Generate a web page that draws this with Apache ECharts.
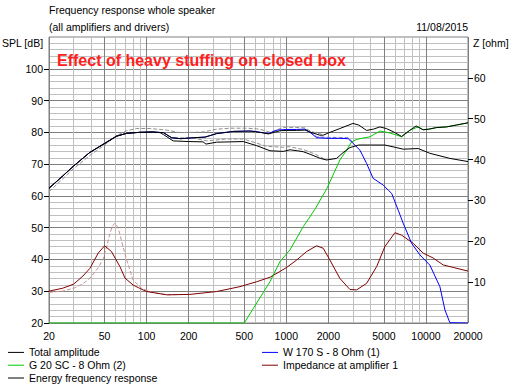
<!DOCTYPE html>
<html><head><meta charset="utf-8">
<script src="https://cdn.jsdelivr.net/npm/echarts@6/dist/echarts.min.js"></script>
<style>html,body{margin:0;padding:0;background:#fff}#c{width:515px;height:385px}</style>
</head><body><div id="c"></div>
<script>
// ---- tick / grid values ----
const xLabelTicks = [20,50,100,200,500,1000,2000,5000,10000,20000];
const xMinorGrid = [30,40,60,70,80,90,300,400,600,700,800,900,3000,4000,6000,7000,8000,9000];
const splTicks = [20,30,40,50,60,70,80,90,100];
const zTicks = [10,20,30,40,50,60];

// ---- Total amplitude (dB) ----
const totalF  = [20,25,30,39,50,61,72,89,110,132,151,175,216,262,317,420,550,650,745,900,1000,1180,1360,1500,1740,1840,2000,2420,3000,3300,3760,4200,4680,5200,5830,6694,7600,8500,9550,10500,11900,14000,16570,20000];
const totalDb = [62.4,66.2,69.4,73.6,76.5,78.8,79.7,80.0,80.1,79.9,78.3,78.0,78.3,78.5,79.6,80.3,80.4,80.0,79.5,80.5,80.6,80.6,80.7,80.0,79.1,79.1,79.8,81.2,82.8,82.3,80.6,81.0,81.7,81.2,80.2,78.7,80.5,82.0,80.8,81.0,81.5,81.7,82.3,83.0];

// ---- Energy frequency response (dB) ----
const energyF  = [20,25,30,39,50,61,72,89,110,125,132,155,200,254,266,317,400,492,614,764,951,1062,1200,1322,1500,1750,1946,2294,2550,2856,3300,4000,5082,6000,6870,8800,10670,14830,20000];
const energyDb = [62.4,66.2,69.4,73.6,76.5,78.8,79.7,80.0,80.1,79.9,79.3,77.3,77.1,77.0,76.3,76.9,77.0,77.1,75.8,74.2,74.0,74.5,74.2,73.9,73.0,71.8,71.3,71.8,73.6,75.2,76.0,76.0,76.0,75.3,74.7,74.9,73.4,71.8,70.8];

// ---- W 170 S woofer (dB) ----
const wooferF  = [20,25,30,39,50,61,72,89,110,132,151,175,216,262,317,420,550,597,650,745,858,1000,1180,1360,1500,1650,2000,2400,2776,3015,3366,3760,4190,4944,5370,5678,6330,6870,7890,9060,10670,12590,13680,14830,20000];
const wooferDb = [62.4,66.2,69.4,73.6,76.5,78.8,79.7,80.0,80.1,79.9,78.3,78.0,78.3,78.5,79.6,80.3,80.4,80.3,80.0,79.6,80.7,80.9,80.9,81.0,79.8,78.3,78.1,78.1,78.0,76.5,74.4,70.2,65.5,63.4,61.8,60.8,55.5,51.4,45.1,41.4,38.2,31.4,24.1,20.1,20];

// ---- G 20 SC tweeter (dB) ----
const tweeterF  = [20,500,764,900,1062,1322,1604,1946,2421,2704,2937,3200,3461,3972,4680,5520,6100,6694,7674,8800,9552,10500,11900,14000,16570,20000];
const tweeterDb = [20,20,33,39.3,43,50.3,55.8,62.2,71.3,74.4,77,77.8,78.1,78.6,80.4,79.8,79.2,78.6,80.7,81.7,80.8,81.0,81.5,81.7,82.3,83.0];

// ---- Impedance at amplifier 1 (ohm) ----
const impF   = [20,25,30,35,39.3,45,50,56,64.4,70,80,89,100,139,204,317,466,614,764,900,1006,1186,1399,1650,1838,2054,2421,2856,3188,3760,4434,5082,5994,6694,8108,9552,11270,13290,15670,20000];
const impOhm = [7.8,8.5,9.5,11.5,13.4,17.1,18.9,17.5,13.8,11.0,9.3,8.5,7.7,6.9,7.0,7.7,8.9,10.1,11.2,12.6,13.6,15.4,17.5,18.9,18.3,15.4,10.9,8.2,8.1,9.7,13.8,18.7,22.1,21.5,19.5,17.1,15.9,14.2,13.6,12.7];

// ---- previous measurement overlays (dashed) ----
const oldTotalF  = [20,30,40,50,61,72,85,106,139,173,254,317,400,520,614,700,764,830,951,1253,1360,1500,1750,1900];
const oldTotalDb = [61.3,68.6,73.0,76.0,79.0,80.5,81.2,81.2,80.7,79.9,80.1,81.0,81.3,81.3,81.1,80.6,80.0,80.6,81.5,81.5,81.4,80.3,79.5,79.3];
const oldEnergyF  = [132,151,216,270,374,492,614,723,951,1062,1186,1322,1600,1838,1946];
const oldEnergyDb = [79.9,78.3,78.2,77.3,77.9,77.9,76.6,75.6,75.3,75.5,75.0,74.6,73.2,71.8,71.3];
const oldWooferF  = [1360,1500,1650,2000,2400,2776,2950];
const oldWooferDb = [81.0,80.0,78.6,78.4,78.4,78.3,77.2];
const oldImpF   = [20,25,30,35,39.3,45,49,52,54.7,57,59.4,62,64,68,72,80,92,110,140,200];
const oldImpOhm = [7.5,7.8,8.5,9.6,11,13.5,15.8,19,22,23.8,24.4,23.5,22,18.5,15.4,10.5,8.5,7.5,6.9,7.0];

function pairs(f, v) { return f.map((x, i) => [x, v[i]]); }

const FONT = '"Liberation Sans", Arial, sans-serif';
const FS = 10.5;
const LEGEND_ICON = 'path://M0,0H16V1H0Z';

function line(name, f, v, color, yIdx, dashed) {
  return {
    name: name, type: 'line', xAxisIndex: 0, yAxisIndex: yIdx,
    data: pairs(f, v), showSymbol: false, symbol: 'none', smooth: false,
    color: color, itemStyle: { color: color },
    lineStyle: { color: color, width: 1, type: dashed ? [4, 2] : 'solid' },
    emphasis: { disabled: true }, silent: true, animation: false, clip: true
  };
}

function legendBlock(left, names) {
  return {
    left: left, top: 346, orient: 'vertical', itemWidth: 16, itemHeight: 12.8, itemGap: 0, padding: 0,
    icon: LEGEND_ICON, symbolKeepAspect: true, selectedMode: false,
    itemStyle: { borderWidth: 0 },
    textStyle: { fontFamily: FONT, fontSize: FS, color: '#000', lineHeight: 12.8 },
    data: names
  };
}

const chart = echarts.init(document.getElementById('c'), null, { renderer: 'svg' });
chart.setOption({
  animation: false,
  backgroundColor: '#ffffff',
  textStyle: { fontFamily: FONT, fontSize: FS, color: '#000' },
  grid: { left: 49, top: 37, width: 419, height: 286, show: true, borderColor: '#808080', borderWidth: 1, backgroundColor: 'transparent', outerBoundsMode: 'none' },
  xAxis: [
    {
      type: 'log', logBase: 10, min: 20, max: 20000, position: 'bottom',
      axisLine: { show: false },
      axisTick: { show: false, customValues: xLabelTicks },
      axisLabel: { customValues: xLabelTicks, margin: 7, color: '#000', fontFamily: FONT, fontSize: FS,
                   formatter: v => String(Math.round(v)) },
      splitLine: { show: true, lineStyle: { color: '#808080', width: 1 } }
    },
    {
      type: 'log', logBase: 10, min: 20, max: 20000, position: 'bottom',
      axisLine: { show: false },
      axisTick: { show: false, customValues: xMinorGrid },
      axisLabel: { show: false },
      splitLine: { show: true, lineStyle: { color: '#c0c0c0', width: 1 } }
    }
  ],
  yAxis: [
    {
      type: 'value', min: 20, max: 110, interval: 10, position: 'left',
      axisLine: { show: false },
      axisTick: { show: true, inside: false, length: 5, customValues: splTicks, lineStyle: { color: '#000' } },
      axisLabel: { customValues: splTicks, margin: 6, color: '#000', fontFamily: FONT, fontSize: FS },
      splitLine: { show: true, lineStyle: { color: '#808080', width: 1 } },
      minorTick: { show: false, splitNumber: 5 },
      minorSplitLine: { show: true, lineStyle: { color: '#c0c0c0', width: 1 } }
    },
    {
      type: 'value', min: 0, max: 70, interval: 10, position: 'right',
      axisLine: { show: false },
      axisTick: { show: true, inside: false, length: 5, customValues: zTicks, lineStyle: { color: '#000' } },
      axisLabel: { customValues: zTicks, margin: 6, color: '#000', fontFamily: FONT, fontSize: FS },
      splitLine: { show: false }
    }
  ],
  legend: [
    legendBlock(8, ['Total amplitude', 'G 20 SC - 8 Ohm (2)', 'Energy frequency response']),
    legendBlock(262, ['W 170 S - 8 Ohm (1)', 'Impedance at amplifier 1'])
  ],
  graphic: [
    { type: 'text', x: 49, y: 4, style: { text: 'Frequency response whole speaker', fontFamily: FONT, fontSize: FS, fill: '#000', verticalAlign: 'top' } },
    { type: 'text', x: 49, y: 21, style: { text: '(all amplifiers and drivers)', fontFamily: FONT, fontSize: FS, fill: '#000', verticalAlign: 'top' } },
    { type: 'text', x: 468, y: 21, style: { text: '11/08/2015', fontFamily: FONT, fontSize: FS, fill: '#000', align: 'right', verticalAlign: 'top' } },
    { type: 'text', x: 2, y: 37, style: { text: 'SPL [dB]', fontFamily: FONT, fontSize: FS, fill: '#000', verticalAlign: 'top' } },
    { type: 'text', x: 473, y: 37, style: { text: 'Z [ohm]', fontFamily: FONT, fontSize: FS, fill: '#000', verticalAlign: 'top' } },
    { type: 'text', x: 57, y: 52, z: 100, style: { text: 'Effect of heavy stuffing on closed box', fontFamily: FONT, fontSize: 16, fontWeight: 'bold', fill: '#ff2020', verticalAlign: 'top' } }
  ],
  series: [
    line('old total', oldTotalF, oldTotalDb, '#909090', 0, true),
    line('old energy', oldEnergyF, oldEnergyDb, '#909090', 0, true),
    line('old woofer', oldWooferF, oldWooferDb, '#7878d8', 0, true),
    line('old impedance', oldImpF, oldImpOhm, '#c89090', 1, true),
    line('Impedance at amplifier 1', impF, impOhm, '#800000', 1, false),
    line('G 20 SC - 8 Ohm (2)', tweeterF, tweeterDb, '#00c800', 0, false),
    line('W 170 S - 8 Ohm (1)', wooferF, wooferDb, '#0000ff', 0, false),
    line('Energy frequency response', energyF, energyDb, '#000000', 0, false),
    line('Total amplitude', totalF, totalDb, '#000000', 0, false)
  ]
});
</script></body></html>
